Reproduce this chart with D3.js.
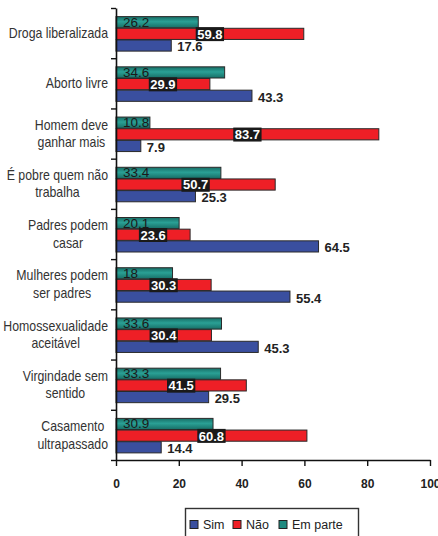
<!DOCTYPE html>
<html>
<head>
<meta charset="utf-8">
<script src="https://cdn.jsdelivr.net/npm/d3@7"></script>
<style>
  body { margin: 0; background: #fff; }
  svg { display: block; }
  .cat { font-family: "Liberation Sans", Arial, sans-serif; font-size: 14px; fill: #333; }
  .tick text { font-family: "Liberation Sans", Arial, sans-serif; font-size: 12px; font-weight: bold; fill: #222; }
  .nar { font-family: "Liberation Sans Narrow", "Arial Narrow", "Liberation Sans", sans-serif; font-size: 13px; }
  .leg { font-family: "Liberation Sans", Arial, sans-serif; font-size: 12.5px; fill: #222; }
</style>
</head>
<body>
<script>
var width = 438;
var height = 536;

var categories = ["Droga liberalizada", "Aborto livre", "Homem deve\nganhar mais",
  "É pobre quem não\ntrabalha", "Padres podem\ncasar", "Mulheres podem\nser padres",
  "Homossexualidade\naceitável", "Virgindade sem\nsentido", "Casamento\nultrapassado"];
var simValues    = [17.6, 43.3, 7.9, 25.3, 64.5, 55.4, 45.3, 29.5, 14.4];
var naoValues    = [59.8, 29.9, 83.7, 50.7, 23.6, 30.3, 30.4, 41.5, 60.8];
var emParteValues = [26.2, 34.6, 10.8, 33.4, 20.1, 18, 33.6, 33.3, 30.9];
var seriesNames = ["Sim", "Não", "Em parte"];
var xTicks = [0, 20, 40, 60, 80, 100];

var colors = {"Sim": "#3a4f9f", "Não": "#ee1f26", "Em parte": "url(#tealGrad)"};
var swatch = {"Sim": "#3a4f9f", "Não": "#ee1f26", "Em parte": "#1f8a80"};

var svg = d3.select("body").append("svg")
  .attr("width", width)
  .attr("height", height);

var grad = svg.append("defs").append("linearGradient")
  .attr("id", "tealGrad").attr("x1", 0).attr("y1", 0).attr("x2", 0).attr("y2", 1);
grad.append("stop").attr("offset", "0%").attr("stop-color", "#176e66");
grad.append("stop").attr("offset", "45%").attr("stop-color", "#2aa095");
grad.append("stop").attr("offset", "100%").attr("stop-color", "#176e66");

var x = d3.scaleLinear().domain([0, 100]).range([116, 430]);
var y = d3.scaleBand().domain(categories).range([8, 460]);
// top to bottom inside a group: Em parte, Não, Sim
var sub = d3.scaleBand().domain(["Em parte", "Não", "Sim"])
  .range([y.bandwidth() / 2 - 16.5, y.bandwidth() / 2 + 18.5]);

var rows = categories.map((c, i) => ({
  cat: c,
  vals: [
    {key: "Em parte", v: emParteValues[i]},
    {key: "Não", v: naoValues[i]},
    {key: "Sim", v: simValues[i]}
  ]
}));

var groups = svg.append("g").selectAll("g")
  .data(rows)
  .enter().append("g")
  .attr("transform", d => "translate(0," + y(d.cat) + ")");

groups.selectAll("rect")
  .data(d => d.vals)
  .enter().append("rect")
  .attr("x", x(0))
  .attr("y", d => sub(d.key))
  .attr("width", d => x(d.v) - x(0))
  .attr("height", sub.bandwidth() - 0.5)
  .attr("fill", d => colors[d.key])
  .attr("stroke", "#2a2a2a")
  .attr("stroke-width", 1);

// Em parte labels: inside base
groups.append("text")
  .attr("class", "nar")
  .attr("x", x(0) + 7)
  .attr("y", sub("Em parte") + sub.bandwidth() / 2 - 0.5)
  .attr("dy", "0.35em")
  .attr("fill", "#1a1a1a")
  .style("font-size", "13.5px")
  .text(d => d.vals[0].v);

// Não labels: white on black box, centred on bar
var naoLab = groups.append("g")
  .attr("transform", d => "translate(" + x(d.vals[1].v / 2) + "," + (sub("Não") + sub.bandwidth() / 2) + ")");
naoLab.append("text")
  .attr("class", "nar")
  .attr("text-anchor", "middle")
  .attr("dy", "0.36em")
  .attr("fill", "#fff")
  .attr("font-weight", "bold")
  .text(d => d.vals[1].v);
naoLab.each(function() {
  var g = d3.select(this);
  var w = g.select("text").node().getComputedTextLength();
  g.insert("rect", "text")
    .attr("x", -w / 2 - 1.5)
    .attr("y", -7)
    .attr("width", w + 3)
    .attr("height", 14)
    .attr("fill", "#1a1a1a");
});

// Sim labels: outside end
groups.append("text")
  .attr("class", "nar")
  .attr("x", d => x(d.vals[2].v) + 6)
  .attr("y", sub("Sim") + sub.bandwidth() / 2 + 1)
  .attr("dy", "0.36em")
  .attr("fill", "#222")
  .attr("font-weight", "bold")
  .text(d => d.vals[2].v);

// Category labels: centred block, right edge at 108, slightly condensed
groups.each(function(d) {
  var lines = d.cat.split("\n");
  var g = d3.select(this).append("g")
    .attr("transform", "translate(108,0) scale(0.88,1)");
  var t = g.selectAll("text").data(lines).enter().append("text")
    .attr("class", "cat")
    .attr("text-anchor", "middle")
    .attr("y", (l, i) => y.bandwidth() / 2 + (i - (lines.length - 1) / 2) * 17.5)
    .attr("dy", "0.35em")
    .text(l => l);
  var maxW = d3.max(t.nodes(), n => n.getComputedTextLength());
  t.attr("x", -maxW / 2);
});

// Y axis: ticks at category boundaries
var yIdx = d3.scaleLinear().domain([0, categories.length]).range([8, 460]);
var yAxis = svg.append("g")
  .attr("transform", "translate(" + x(0) + ",0)")
  .call(d3.axisLeft(yIdx).tickValues(d3.range(categories.length + 1)).tickFormat("").tickSize(5).tickSizeOuter(0));
yAxis.select(".domain").attr("stroke", "#111").attr("stroke-width", 1.6);
yAxis.selectAll(".tick line").attr("stroke", "#111").attr("stroke-width", 1.4);

// X axis
var xAxis = svg.append("g")
  .attr("transform", "translate(0,460)")
  .call(d3.axisBottom(x).tickValues(xTicks).tickSize(6).tickSizeOuter(0).tickPadding(13.5));
xAxis.select(".domain").attr("stroke", "#111").attr("stroke-width", 1.6);
xAxis.selectAll(".tick line").attr("stroke", "#111").attr("stroke-width", 1.4);

// Legend
var legend = svg.append("g");
legend.append("rect")
  .attr("x", 185.5).attr("y", 508.5)
  .attr("width", 173).attr("height", 40)
  .attr("fill", "#fff").attr("stroke", "#333").attr("stroke-width", 1.4);
var legX = [190, 233, 279];
var items = legend.selectAll(".item").data(seriesNames).enter().append("g")
  .attr("transform", (d, i) => "translate(" + legX[i] + ",520)");
items.append("rect")
  .attr("width", 8).attr("height", 8).attr("y", 0.5)
  .attr("fill", d => swatch[d]).attr("stroke", "#222").attr("stroke-width", 1);
items.append("text")
  .attr("class", "leg")
  .attr("x", 13).attr("y", 8.5)
  .text(d => d);
</script>
</body>
</html>
